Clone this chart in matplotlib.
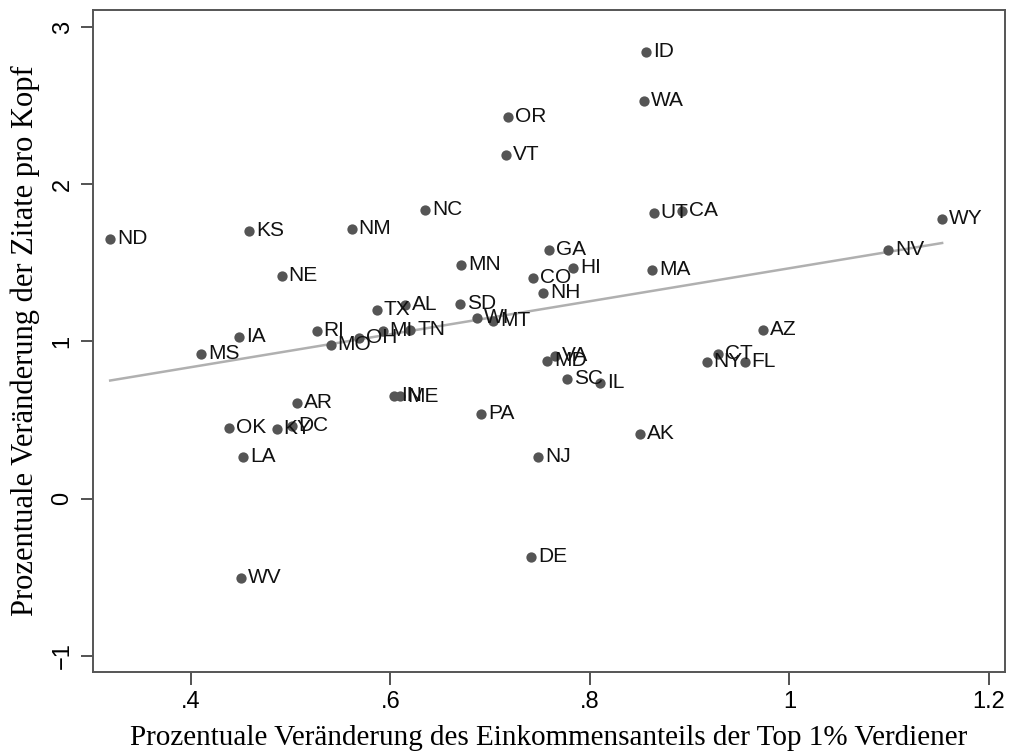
import numpy as np
import matplotlib
matplotlib.use("Agg")
import matplotlib.pyplot as plt

# state codes and values
states = ["ND", "KS", "NM", "NC", "NE", "MS", "IA", "RI", "MO", "OH",
          "MI", "TN", "TX", "AL", "SD", "WI", "MT", "MN", "CO", "NH",
          "GA", "HI", "OR", "VT", "ID", "WA", "UT", "CA", "MA", "NV",
          "WY", "AZ", "CT", "NY", "FL", "VA", "MD", "SC", "IL", "IN",
          "ME", "PA", "NJ", "AK", "DE", "WV", "AR", "OK", "KY", "DC", "LA"]
einkommen = [0.319, 0.458, 0.561, 0.635, 0.491, 0.410, 0.448, 0.526, 0.540, 0.568,
             0.592, 0.620, 0.586, 0.615, 0.670, 0.687, 0.703, 0.671, 0.743, 0.753,
             0.759, 0.783, 0.718, 0.716, 0.856, 0.854, 0.864, 0.892, 0.862, 1.099,
             1.153, 0.973, 0.928, 0.917, 0.955, 0.765, 0.757, 0.777, 0.810, 0.604,
             0.610, 0.691, 0.748, 0.850, 0.741, 0.450, 0.506, 0.438, 0.486, 0.501, 0.452]
zitate = [1.653, 1.704, 1.717, 1.838, 1.418, 0.922, 1.030, 1.068, 0.979, 1.024,
          1.068, 1.075, 1.202, 1.234, 1.240, 1.151, 1.132, 1.488, 1.405, 1.310,
          1.583, 1.469, 2.429, 2.188, 2.843, 2.531, 1.819, 1.831, 1.456, 1.583,
          1.781, 1.075, 0.922, 0.871, 0.871, 0.909, 0.878, 0.763, 0.738, 0.655,
          0.652, 0.541, 0.267, 0.413, -0.369, -0.502, 0.610, 0.451, 0.445, 0.464, 0.267]

x_ticks = [0.4, 0.6, 0.8, 1.0, 1.2]
x_ticklabels = [".4", ".6", ".8", "1", "1.2"]
y_ticks = [-1, 0, 1, 2, 3]
y_ticklabels = ["\u22121", "0", "1", "2", "3"]

x = np.array(einkommen)
y = np.array(zitate)

fig = plt.figure(figsize=(10.09, 7.54), dpi=100)
ax = fig.add_axes([0.0922, 0.1088, 0.9038, 0.8779])

ax.scatter(x, y, s=55, color="#555555", zorder=3, linewidths=0)
for s, xi, yi in zip(states, x, y):
    ax.annotate(s, (xi, yi), xytext=(5, 0), textcoords="offset points",
                va="center", ha="left", fontsize=15, color="#111111",
                family="Liberation Sans", zorder=4)

# linear fit line
b, a = np.polyfit(x, y, 1)
xs = np.array([x.min(), x.max()])
ax.plot(xs, a + b * xs, color="#b0b0b0", linewidth=1.8, zorder=2)

ax.set_xlim(0.3018, 1.216)
ax.set_ylim(-1.102, 3.108)
ax.set_xticks(x_ticks)
ax.set_xticklabels(x_ticklabels, family="Liberation Sans", fontsize=17)
ax.set_yticks(y_ticks)
ax.set_yticklabels(y_ticklabels, family="Liberation Sans", fontsize=17,
                   rotation=90, va="center")
ax.tick_params(direction="out", length=9, width=1.3, color="#444444", pad=5)
for sp in ax.spines.values():
    sp.set_color("#555555")
    sp.set_linewidth(1.4)

ax.set_xlabel("Prozentuale Ver\u00e4nderung des Einkommensanteils der Top 1% Verdiener",
              family="Liberation Serif", fontsize=21, labelpad=8)
ax.set_ylabel("Prozentuale Ver\u00e4nderung der Zitate pro Kopf",
              family="Liberation Serif", fontsize=22, labelpad=8)

fig.savefig("out.png", dpi=100)
